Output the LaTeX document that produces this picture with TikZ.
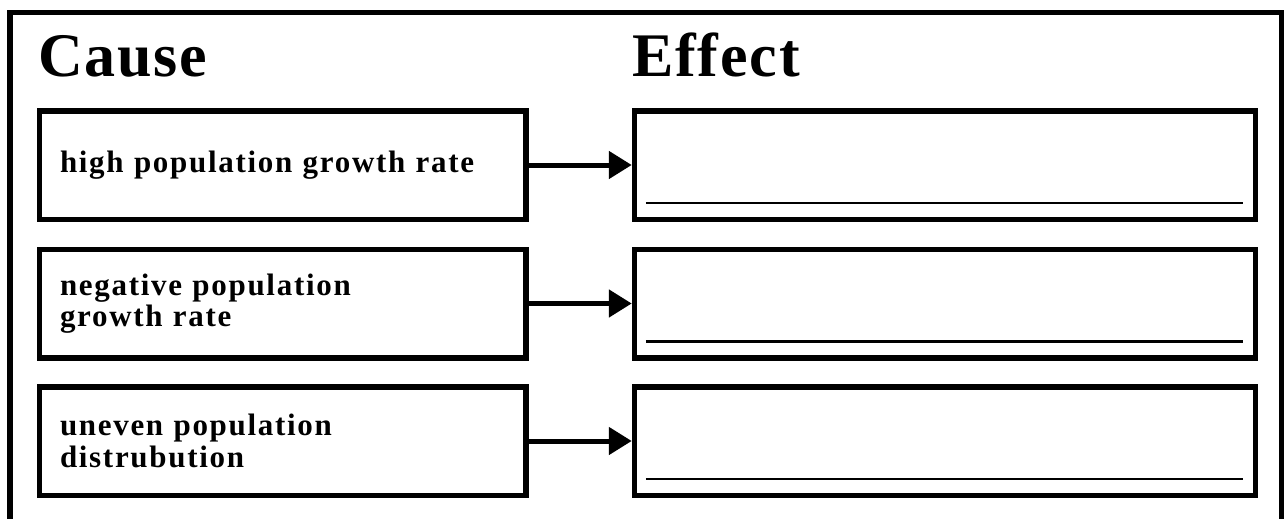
\documentclass[tikz,border=0pt]{standalone}
\usepackage{fontspec}
\setmainfont{Liberation Serif}
\newfontfamily\headfont[LetterSpace=3]{Liberation Serif}
\newfontfamily\bodyfont[LetterSpace=5.5]{Liberation Serif}
\usetikzlibrary{arrows.meta}
\tikzset{
  frame/.style={line width=5.5pt},
  causebox/.style={draw, line width=5.5pt, minimum width=486.5pt, minimum height=108.5pt,
    text width=445.5pt, inner xsep=20.5pt, align=left,
    font=\bodyfont\bfseries\fontsize{31}{31.5}\selectfont},
  effectbox/.style={draw, line width=5.5pt, minimum width=621pt, minimum height=108.5pt},
  heading/.style={anchor=base west, inner sep=0pt, font=\headfont\bfseries\fontsize{62}{62}\selectfont},
  link/.style={line width=5pt, -{Triangle[length=23pt, width=27pt]}},
  answerline/.style={line width=2.5pt}
}
\begin{document}
\begin{tikzpicture}[x=1pt, y=-1pt]
  \useasboundingbox (0,0) rectangle (1287,519);
  % outer frame, open at the bottom edge of the page
  \draw[frame] (10,530) -- (10,12.5) -- (1281.5,12.5) -- (1281.5,530);

  \node[heading] (hcause) at (38,76) {Cause};
  \node[heading] (heffect) at (632,76) {Effect};

  \node[causebox] (c1) at (282.75,165) {high population growth rate};
  \node[causebox] (c2) at (282.75,303.5) {negative population\\growth rate};
  \node[causebox] (c3) at (282.75,441) {uneven population\\distrubution};

  \node[effectbox] (e1) at (945,165) {};
  \node[effectbox] (e2) at (945,303.5) {};
  \node[effectbox] (e3) at (945,441) {};

  \foreach \i in {1,2,3} {
    \draw[link] (c\i.east) -- (e\i.west);
    \coordinate (l\i) at ([shift={(14pt,19pt)}]e\i.south west);
    \coordinate (r\i) at ([shift={(-15pt,19pt)}]e\i.south east);
    \draw[answerline] (l\i) -- (r\i);
  }
\end{tikzpicture}
\end{document}
